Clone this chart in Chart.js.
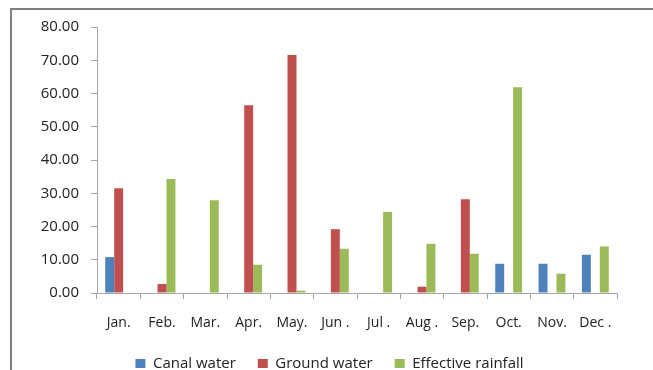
<!DOCTYPE html>
<html>
<head>
<meta charset="utf-8">
<script src="https://cdn.jsdelivr.net/npm/chart.js@4"></script>
<style>
  html, body { margin: 0; padding: 0; background: #fff; }
  #wrap { position: relative; width: 653px; height: 370px; overflow: hidden; }
  #frame { position: absolute; left: 10px; top: 8px; width: 700px; height: 400px;
           border-left: 2px solid #7f7f7f; border-top: 2px solid #7f7f7f; }
  canvas { position: absolute; left: 0; top: 0; }
</style>
</head>
<body>
<div id="wrap">
  <div id="frame"></div>
  <canvas id="grafica" width="653" height="370"></canvas>
</div>
<script>
// monthly water supply, by source
const months = ['Jan.', 'Feb.', 'Mar.', 'Apr.', 'May.', 'Jun .', 'Jul .', 'Aug .', 'Sep.', 'Oct.', 'Nov.', 'Dec .'];
const canalWater = [10.8, 0, 0, 0, 0, 0, 0, 0, 0, 8.8, 8.8, 11.5];
const groundWater = [31.5, 2.7, 0, 56.5, 71.6, 19.2, 0, 1.9, 28.2, 0, 0, 0];
const effectiveRainfall = [0, 34.3, 27.9, 8.5, 0.7, 13.3, 24.4, 14.8, 11.8, 61.9, 5.8, 14.0];
const yTicks = [0, 10, 20, 30, 40, 50, 60, 70, 80];

const fuente = "'Open Sans', sans-serif";
Chart.defaults.font.family = fuente;
Chart.defaults.color = '#222';

// fixed height for the legend strip at the bottom
const alturaLeyenda = {
    id: 'alturaLeyenda',
    beforeInit(chart) {
        const fitOrig = chart.legend.fit;
        chart.legend.fit = function () {
            fitOrig.bind(chart.legend)();
            this.height = 36;
        };
    }
};

const ctx = document.getElementById('grafica');
new Chart(ctx, {
    type: 'bar',
    data: {
        labels: months,
        datasets: [
            { label: 'Canal water', data: canalWater, backgroundColor: '#4f81bd' },
            { label: 'Ground water', data: groundWater, backgroundColor: '#c0504d' },
            { label: 'Effective rainfall', data: effectiveRainfall, backgroundColor: '#9bbb59' }
        ]
    },
    plugins: [alturaLeyenda],
    options: {
        responsive: false,
        animation: false,
        categoryPercentage: 0.62,
        barPercentage: 1,
        layout: { padding: { left: 6, right: 0, top: 27, bottom: 0 } },
        plugins: {
            tooltip: { enabled: false },
            legend: {
                position: 'bottom',
                labels: {
                    boxWidth: 10,
                    boxHeight: 9,
                    padding: 22,
                    font: { size: 15 },
                    color: '#222'
                }
            }
        },
        scales: {
            x: {
                grid: { display: true, drawOnChartArea: false, tickLength: 6, color: '#a6a6a6' },
                border: { color: '#a6a6a6' },
                ticks: { font: { size: 14 }, padding: 16, maxRotation: 0 },
                afterFit: (scale) => { scale.height = 41; }
            },
            y: {
                min: 0,
                max: 80,
                afterBuildTicks: (scale) => { scale.ticks = yTicks.map(v => ({ value: v })); },
                grid: { display: true, drawOnChartArea: false, tickLength: 6, color: '#a6a6a6' },
                border: { color: '#a6a6a6' },
                ticks: {
                    font: { size: 15 },
                    padding: 12,
                    callback: (v) => v.toFixed(2)
                },
                afterFit: (scale) => { scale.width = 91; }
            },
            // empty strip on the right of the plot
            margen: {
                type: 'linear',
                position: 'right',
                grid: { display: false },
                border: { display: false },
                ticks: { display: false },
                afterFit: (scale) => { scale.width = 36; }
            }
        }
    }
});
</script>
</body>
</html>
